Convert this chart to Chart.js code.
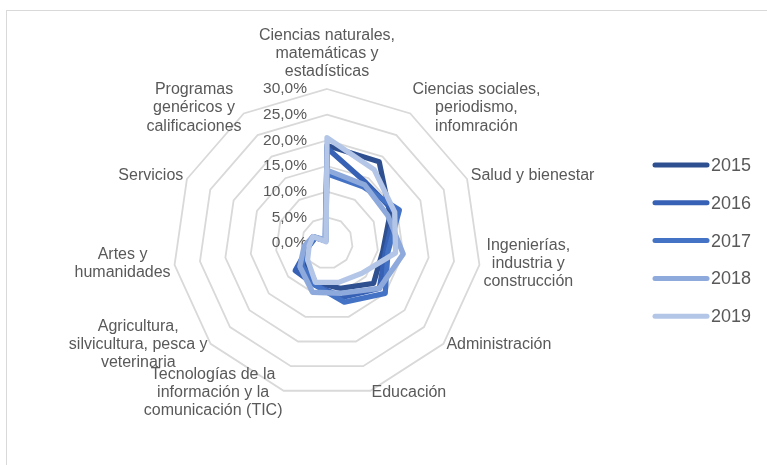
<!DOCTYPE html>
<html>
<head>
<meta charset="utf-8">
<script src="https://cdn.jsdelivr.net/npm/chart.js@4.4.1/dist/chart.umd.min.js"></script>
<style>
    html, body { margin: 0; padding: 0; background: #fff; overflow: hidden; }
    #frame { position: absolute; left: 6px; top: 10px; width: 900px; height: 600px; border: 1px solid #d9d9d9; }
    #wrap { position: absolute; left: 0; top: 0; width: 767px; height: 465px; }
</style>
</head>
<body>
<div id="frame"></div>
<div id="wrap"><canvas id="radarChart"></canvas></div>
<script>
// ======================
// DATA
// ======================
const categories = [
    ['Ciencias naturales,', 'matemáticas y', 'estadísticas'],
    ['Ciencias sociales,', 'periodismo,', 'infomración'],
    ['Salud y bienestar'],
    ['Ingenierías,', 'industria y', 'construcción'],
    ['Administración'],
    ['Educación'],
    ['Tecnologías de la', 'información y la', 'comunicación (TIC)'],
    ['Agricultura,', 'silvicultura, pesca y', 'veterinaria'],
    ['Artes y', 'humanidades'],
    ['Servicios'],
    ['Programas', 'genéricos y', 'calificaciones']
];

const years = ['2015', '2016', '2017', '2018', '2019'];

const values2015 = [19.0, 18.8, 13.5, 11.0, 12.0, 9.2, 8.0, 5.5, 4.0, 3.0, 0.5];
const values2016 = [18.5, 14.0, 14.5, 11.5, 13.5, 11.0, 8.5, 8.2, 3.5, 2.5, 0.5];
const values2017 = [13.5, 13.0, 15.5, 12.0, 15.0, 12.0, 8.5, 6.5, 3.5, 2.5, 0.5];
const values2018 = [14.2, 13.5, 13.0, 15.0, 13.5, 10.2, 10.0, 7.0, 4.5, 3.0, 0.8];
const values2019 = [20.5, 17.0, 14.5, 13.5, 9.0, 8.0, 8.0, 5.0, 3.5, 3.0, 0.3];

const tickValues = [0, 5, 10, 15, 20, 25, 30];
const tickLabels = ['0,0%', '5,0%', '10,0%', '15,0%', '20,0%', '25,0%', '30,0%'];

const colors = ['#2E5090', '#3761B5', '#4472C4', '#8EA9DB', '#B4C6E7'];

const allValues = [values2015, values2016, values2017, values2018, values2019];

const FONT = '"Liberation Sans", Arial, sans-serif';
const TEXT = '#595959';

// ======================
// LABELS, TICKS, LEGEND
// ======================
const excelText = {
    id: 'excelText',
    beforeDatasetsDraw(chart) {
        const scale = chart.scales.r;
        const ctx = chart.ctx;
        ctx.save();
        ctx.fillStyle = TEXT;

        // tick labels, left of the vertical axis
        ctx.font = '15.5px ' + FONT;
        ctx.textAlign = 'right';
        ctx.textBaseline = 'middle';
        tickValues.forEach((v, i) => {
            const d = scale.getDistanceFromCenterForValue(v);
            ctx.fillText(tickLabels[i], scale.xCenter - 20, scale.yCenter - d);
        });

        // category labels
        ctx.font = '16px ' + FONT;
        ctx.textAlign = 'center';
        const lh = 18.3;
        categories.forEach((lines, i) => {
            const p = scale.getPointPosition(i, scale.drawingArea + 4);
            const dx = p.x - scale.xCenter;
            const w = Math.max(...lines.map(t => ctx.measureText(t).width));
            const n = lines.length;
            let cx, top;
            if (Math.abs(dx) < 1) {
                cx = p.x;
                top = p.y - 4 - n * lh;
            } else {
                cx = dx > 0 ? p.x + w / 2 : p.x - w / 2;
                top = p.y - 2 - n * lh / 2;
            }
            lines.forEach((t, j) => ctx.fillText(t, cx, top + lh * (j + 0.5)));
        });

        ctx.restore();
    },
    afterDraw(chart) {
        const ctx = chart.ctx;
        ctx.save();
        ctx.font = '18px ' + FONT;
        ctx.textAlign = 'left';
        ctx.textBaseline = 'middle';
        chart.data.datasets.forEach((ds, i) => {
            const y = 165 + i * 37.8;
            ctx.strokeStyle = ds.borderColor;
            ctx.lineWidth = 5;
            ctx.lineCap = 'round';
            ctx.beginPath();
            ctx.moveTo(655, y);
            ctx.lineTo(707, y);
            ctx.stroke();
            ctx.fillStyle = TEXT;
            ctx.fillText(ds.label, 711, y + 1);
        });
        ctx.restore();
    }
};

// ======================
// CHART
// ======================
new Chart(document.getElementById('radarChart'), {
    type: 'radar',
    data: {
        labels: categories,
        datasets: years.map((y, i) => ({
            label: y,
            data: allValues[i],
            borderColor: colors[i],
            backgroundColor: colors[i],
            borderWidth: 5.3,
            borderJoinStyle: 'round',
            fill: false,
            pointRadius: 0,
            tension: 0,
            order: years.length - i
        }))
    },
    options: {
        responsive: true,
        maintainAspectRatio: false,
        animation: false,
        layout: {
            padding: { left: 173, top: 89, right: 286, bottom: 68 }
        },
        plugins: {
            legend: { display: false },
            tooltip: { enabled: false }
        },
        scales: {
            r: {
                min: 0,
                max: 30,
                ticks: { stepSize: 5, display: false },
                pointLabels: { display: false },
                angleLines: { display: false },
                grid: { circular: false, color: '#d9d9d9', lineWidth: 1.8 }
            }
        }
    },
    plugins: [excelText]
});
</script>
</body>
</html>
